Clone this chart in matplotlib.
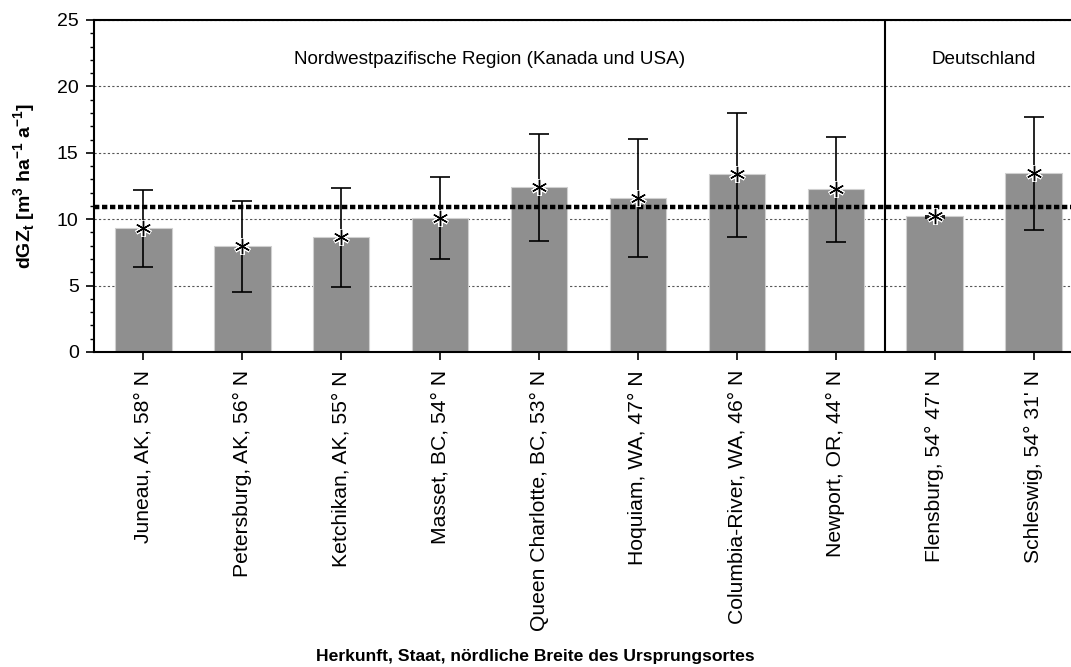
import numpy as np
import matplotlib
matplotlib.use("Agg")
import matplotlib.pyplot as plt
from matplotlib.ticker import MultipleLocator

plt.rcParams['font.family'] = ['Liberation Sans', 'DejaVu Sans']

herkunft = ["Juneau, AK, 58° N", "Petersburg, AK, 56° N", "Ketchikan, AK, 55° N",
            "Masset, BC, 54° N", "Queen Charlotte, BC, 53° N", "Hoquiam, WA, 47° N",
            "Columbia-River, WA, 46° N", "Newport, OR, 44° N",
            "Flensburg, 54° 47' N", "Schleswig, 54° 31' N"]
dgz = [9.31, 7.98, 8.68, 10.11, 12.42, 11.62, 13.43, 12.25, 10.22, 13.50]
err_oben = [12.17, 11.35, 12.35, 13.15, 16.42, 16.02, 18.00, 16.17, 10.25, 17.72]
err_unten = [6.38, 4.52, 4.92, 7.00, 8.38, 7.15, 8.68, 8.26, 10.10, 9.16]
mittel_gesamt = 10.9
n_nordwest = 8

W, H = 1071, 667
fig = plt.figure(figsize=(W / 100, H / 100), dpi=100)
# right edge of the axes lies outside the picture, as in the original
ax = fig.add_axes([94 / W, 1 - 352 / H, (1083 - 94) / W, (352 - 20) / H])

x = np.arange(len(herkunft))
dgz = np.array(dgz)
yerr = [dgz - np.array(err_unten), np.array(err_oben) - dgz]

ax.bar(x, dgz, width=0.57, color="#8f8f8f", edgecolor="#d0d0d0", linewidth=0.8, zorder=2)
ax.errorbar(x, dgz, yerr=yerr, fmt="none", ecolor="black", elinewidth=1.2,
            capsize=7, capthick=1.2, zorder=3)
ax.plot(x, dgz, linestyle="none", marker=(6, 2, 0), markersize=12,
        markeredgecolor="white", markeredgewidth=3.0, zorder=4)
ax.plot(x, dgz, linestyle="none", marker=(6, 2, 0), markersize=11,
        markeredgecolor="black", markeredgewidth=1.0, zorder=5)

ax.axhline(mittel_gesamt, color="black", linestyle=(0, (1.2, 0.6)), linewidth=3.2, zorder=3)
ax.axvline(n_nordwest - 0.5, color="black", linewidth=1.5, zorder=3)

ax.set_xlim(-0.5, len(herkunft) - 0.5)
ax.set_ylim(0, 25)
ax.yaxis.set_major_locator(MultipleLocator(5))
ax.yaxis.set_minor_locator(MultipleLocator(1))
ax.grid(axis="y", which="major", color="#555555", linestyle=(0, (2, 2)), linewidth=0.8, zorder=0)

ax.set_xticks(x)
ax.set_xticklabels(herkunft, rotation=90, fontsize=15.2)
ax.tick_params(axis="x", direction="out", length=6, width=1.2, pad=7)
ax.tick_params(axis="y", which="major", direction="out", length=6, width=1.2, labelsize=14, pad=5)
ax.tick_params(axis="y", which="minor", direction="out", length=3, width=1.0)

for s in ax.spines.values():
    s.set_linewidth(1.5)

ax.text((n_nordwest - 0.5 - 0.5) / 2, 22.0, "Nordwestpazifische Region (Kanada und USA)",
        ha="center", va="center", fontsize=13.6)
ax.text((n_nordwest - 0.5 + len(herkunft) - 0.5) / 2, 22.0, "Deutschland",
        ha="center", va="center", fontsize=13.6)

ax.set_ylabel(r"dGZ$_\mathregular{t}$ [m$^\mathregular{3}$ ha$^\mathregular{-1}$ a$^\mathregular{-1}$]",
              fontsize=14, fontweight="bold")
ax.yaxis.set_label_coords((38 - 94) / (1083 - 94), 0.5)
fig.text(535 / W, 1 - 656 / H,
         "Herkunft, Staat, nördliche Breite des Ursprungsortes",
         ha="center", va="center", fontsize=12.6, fontweight="bold")

fig.savefig("out.png", dpi=100)
